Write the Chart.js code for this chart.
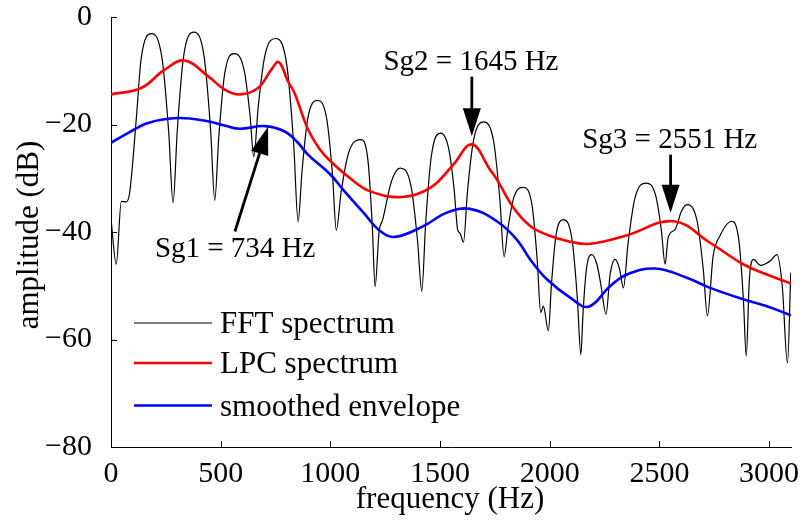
<!DOCTYPE html>
<html><head><meta charset="utf-8">
<script src="https://cdn.jsdelivr.net/npm/chart.js@4"></script>
<style>html,body{margin:0;padding:0;background:#fff;overflow:hidden}#wrap{width:803px;height:525px}</style>
</head><body><div id="wrap"><canvas id="c" width="803" height="525"></canvas></div>
<script>
// ---- data (frequency in Hz, amplitude in dB) ----
const fftFreq = [0,24,47,70,85,115,137,184,233,263,283,302,330,378,425,454,473,491,517,561,606,633,651,671,701,751,802,833,853,871,897,941,984,1010,1027,1049,1083,1139,1172,1191,1204,1222,1238,1279,1318,1368,1397,1417,1434,1460,1503,1540,1565,1580,1592,1607,1625,1653,1698,1745,1773,1792,1810,1836,1880,1920,1943,1959,1971,1994,2008,2028,2062,2102,2126,2142,2152,2167,2192,2215,2232,2257,2275,2298,2318,2336,2357,2388,2440,2483,2509,2526,2540,2572,2600,2625,2672,2700,2719,2745,2775,2830,2863,2883,2896,2910,2929,2960,3005,3036,3060,3084,3099];
const fftDb = [-37.6,-46.0,-34.3,-34.4,-32.7,-19.1,-7.9,-3.1,-7.8,-21.4,-34.6,-21.2,-7.6,-2.8,-7.5,-21.0,-34.1,-22.6,-10.9,-6.8,-9.7,-17.9,-26.0,-16.8,-7.3,-4.0,-9.1,-23.8,-38.1,-28.6,-18.9,-15.5,-19.1,-29.5,-39.7,-32.6,-25.3,-22.8,-26.9,-38.7,-50.2,-40.0,-37.8,-30.5,-28.1,-31.5,-41.4,-51.0,-38.7,-26.0,-21.6,-24.6,-32.4,-39.5,-40.3,-41.9,-32.5,-22.9,-19.5,-23.3,-34.1,-44.6,-39.2,-33.6,-31.7,-35.2,-45.2,-55.0,-53.8,-58.4,-49.7,-40.8,-37.7,-41.5,-52.3,-62.8,-55.0,-47.0,-44.2,-46.0,-49.5,-55.3,-48.0,-45.1,-46.8,-50.4,-42.2,-33.8,-30.9,-33.2,-39.7,-46.0,-41.0,-39.5,-36.2,-34.9,-38.0,-46.9,-55.6,-44.5,-40.8,-38.0,-41.8,-52.6,-63.1,-49.0,-45.1,-46.2,-45.4,-44.2,-50.0,-64.4,-47.6];

const lpcFreq = [0,138,245,336,442,518,587,670,731,765,807,836,898,950,1000,1090,1180,1326,1455,1560,1645,1728,1759,1835,1911,1987,2093,2184,2352,2564,2731,2882,2990,3100];
const lpcDb = [-14.4,-13.2,-9.8,-8.1,-11.0,-13.5,-14.4,-13.2,-9.8,-8.4,-12.0,-14.1,-20.9,-24.5,-26.8,-30.0,-32.4,-33.5,-31.8,-27.5,-23.7,-28.4,-30.2,-35.5,-38.9,-40.5,-41.8,-42.2,-40.6,-38.0,-42.0,-46.0,-47.9,-49.6];

const envFreq = [0,77,169,305,442,518,587,700,792,850,898,1000,1060,1151,1227,1295,1424,1531,1637,1759,1850,1911,1987,2093,2177,2275,2352,2481,2625,2731,2882,2990,3100];
const envDb = [-23.4,-21.6,-19.7,-18.8,-19.4,-20.2,-20.8,-20.3,-21.3,-23.3,-25.6,-29.3,-32.2,-36.4,-39.8,-40.9,-38.9,-36.4,-35.7,-38.0,-41.4,-45.1,-48.8,-52.2,-53.9,-50.1,-47.9,-46.8,-48.5,-50.4,-52.5,-53.8,-55.5];

const xTicks = [0,500,1000,1500,2000,2500,3000];
const yTicks = [-80,-60,-40,-20,0];
const seriesLabels = ['FFT spectrum','LPC spectrum','smoothed envelope'];

const annotationTexts = ['Sg1 = 734 Hz','Sg2 = 1645 Hz','Sg3 = 2551 Hz'];
const annotationTextAt = [[566,-44.6],[1641,-9.9],[2547,-24.3]];
const arrowFrom = [[565,-39.9],[1645,-11.1],[2551,-25.6]];
const arrowTo = [[716,-20.4],[1645,-22.2],[2551,-36.4]];

const SERIF = "'Liberation Serif','Times New Roman',serif";
const toPts = (xs, ys) => xs.map((x, i) => ({x, y: ys[i]}));
const minus = s => String(s).replace('-', '\u2212');

const innerTicks = {
  id: 'innerTicks',
  afterDraw(chart) {
    const {ctx, chartArea: a, scales: {x, y}} = chart;
    ctx.save();
    ctx.strokeStyle = '#000'; ctx.lineWidth = 1;
    ctx.beginPath();
    xTicks.forEach(v => { const p = Math.round(x.getPixelForValue(v)) + 0.5; ctx.moveTo(p, a.bottom); ctx.lineTo(p, a.bottom - 6); });
    yTicks.forEach(v => { const p = Math.round(y.getPixelForValue(v)) + 0.5; ctx.moveTo(a.left, p); ctx.lineTo(a.left + 6, p); });
    ctx.stroke();
    // axis titles
    ctx.fillStyle = '#000';
    ctx.font = '31px ' + SERIF;
    ctx.textAlign = 'center'; ctx.textBaseline = 'alphabetic';
    ctx.fillText('frequency (Hz)', (a.left + a.right) / 2 - 1, 508);
    ctx.translate(38, (a.top + a.bottom) / 2 + 3);
    ctx.rotate(-Math.PI / 2);
    ctx.fillText('amplitude (dB)', 0, 0);
    ctx.restore();
  }
};

const annotate = {
  id: 'annotate',
  afterDatasetsDraw(chart) {
    const {ctx, scales: {x, y}} = chart;
    ctx.save();
    ctx.fillStyle = '#000'; ctx.strokeStyle = '#000';
    ctx.font = '29px ' + SERIF;
    ctx.textAlign = 'center'; ctx.textBaseline = 'alphabetic';
    annotationTexts.forEach((t, i) => {
      ctx.fillText(t, x.getPixelForValue(annotationTextAt[i][0]), y.getPixelForValue(annotationTextAt[i][1]));
      const x0 = x.getPixelForValue(arrowFrom[i][0]), y0 = y.getPixelForValue(arrowFrom[i][1]);
      const x1 = x.getPixelForValue(arrowTo[i][0]), y1 = y.getPixelForValue(arrowTo[i][1]);
      const len = Math.hypot(x1 - x0, y1 - y0), ux = (x1 - x0) / len, uy = (y1 - y0) / len;
      const hl = 28, hw = 9;
      const bx = x1 - ux * hl, by = y1 - uy * hl;
      ctx.lineWidth = 2.8;
      ctx.beginPath(); ctx.moveTo(x0, y0); ctx.lineTo(bx + ux * 2, by + uy * 2); ctx.stroke();
      ctx.beginPath();
      ctx.moveTo(x1, y1);
      ctx.lineTo(bx - uy * hw, by + ux * hw);
      ctx.lineTo(bx + uy * hw, by - ux * hw);
      ctx.closePath(); ctx.fill();
    });
    ctx.restore();
  }
};

const legendBox = {
  id: 'legendBox',
  afterDraw(chart) {
    const {ctx, chartArea: a} = chart;
    const rows = [306, 346, 388.5];
    ctx.save();
    ctx.font = '31px ' + SERIF;
    ctx.textAlign = 'left'; ctx.textBaseline = 'alphabetic';
    chart.data.datasets.forEach((ds, i) => {
      const yy = a.top + rows[i];
      ctx.strokeStyle = ds.borderColor; ctx.lineWidth = ds.borderWidth;
      ctx.beginPath(); ctx.moveTo(a.left + 23, yy); ctx.lineTo(a.left + 101, yy); ctx.stroke();
      ctx.fillStyle = '#000';
      ctx.fillText(ds.label, a.left + 109, yy + 10);
    });
    ctx.restore();
  }
};

new Chart(document.getElementById('c'), {
  type: 'line',
  data: {
    datasets: [
      {label: seriesLabels[0], data: toPts(fftFreq, fftDb), borderColor: '#000000', borderWidth: 1.2, order: 3, cubicInterpolationMode: 'monotone'},
      {label: seriesLabels[1], data: toPts(lpcFreq, lpcDb), borderColor: '#ff0000', borderWidth: 2.6, order: 2, tension: 0.4},
      {label: seriesLabels[2], data: toPts(envFreq, envDb), borderColor: '#0000ff', borderWidth: 2.6, order: 1, tension: 0.4}
    ]
  },
  options: {
    responsive: false, animation: false, devicePixelRatio: 1,
    layout: {padding: {top: 17, right: 12, left: 0, bottom: 0}},
    elements: {point: {radius: 0}, line: {fill: false}},
    plugins: {legend: {display: false}, tooltip: {enabled: false}},
    scales: {
      x: {
        type: 'linear', min: 0, max: 3100,
        afterFit: s => { s.height = 78; s.paddingLeft = 0; s.paddingRight = 0; },
        afterBuildTicks: s => { s.ticks = xTicks.map(v => ({value: v})); },
        ticks: {font: {family: SERIF, size: 30}, color: '#000', padding: 1, maxRotation: 0, autoSkip: false, callback: v => String(v)},
        grid: {display: false},
        border: {display: true, color: '#000', width: 1}
      },
      y: {
        type: 'linear', min: -80, max: 0,
        afterFit: s => { s.width = 111; s.paddingTop = 0; s.paddingBottom = 0; },
        afterBuildTicks: s => { s.ticks = yTicks.map(v => ({value: v})); },
        ticks: {font: {family: SERIF, size: 30}, color: '#000', padding: 11, callback: v => minus(v)},
        grid: {display: false},
        border: {display: true, color: '#000', width: 1}
      }
    }
  },
  plugins: [innerTicks, annotate, legendBox]
});
</script></body></html>
